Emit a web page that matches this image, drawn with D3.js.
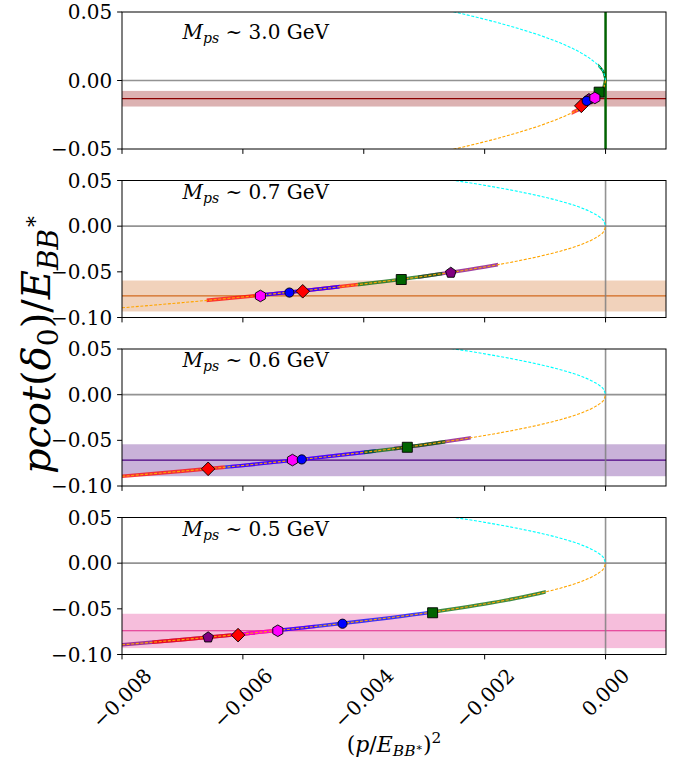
<!DOCTYPE html>
<html><head><meta charset="utf-8">
<script src="https://cdn.jsdelivr.net/npm/d3@7"></script>
<style>body{margin:0;background:#fff} svg{display:block;font-family:"DejaVu Serif",serif}</style>
</head><body><svg id="c" width="684" height="762"></svg>
<script>
// ---------------- data ----------------
const panelMasses = ["3.0", "0.7", "0.6", "0.5"];
const yTicksTop = [0.05, 0.00, -0.05];
const yTicksOther = [0.05, 0.00, -0.05, -0.10];
const xTicks = [-0.008, -0.006, -0.004, -0.002, 0.000];

// reference curve: lower branch (orange) and upper branch (cyan)
const curveX      = [-0.008, -0.007, -0.006, -0.005, -0.004, -0.003, -0.0025, -0.002, -0.0015, -0.001, -0.0007, -0.0004, -0.0002, -0.0001, -0.00003, 0];
const curveLowerY = [-0.0894, -0.0837, -0.0775, -0.0707, -0.0632, -0.0548, -0.0500, -0.0447, -0.0387, -0.0316, -0.0265, -0.0200, -0.0141, -0.0100, -0.0055, 0];
const curveUpperY = [0.0894, 0.0837, 0.0775, 0.0707, 0.0632, 0.0548, 0.0500, 0.0447, 0.0387, 0.0316, 0.0265, 0.0200, 0.0141, 0.0100, 0.0055, 0];

// constant fit per panel
const fitCenter = [-0.0132, -0.0764, -0.0716, -0.0740];
const fitLow    = [-0.0190, -0.0934, -0.0893, -0.0930];
const fitHigh   = [-0.0076, -0.0595, -0.0543, -0.0554];

// points per panel: series, x, y
const ser30 = ["red", "purple", "blue", "green", "magenta"];
const x30   = [-0.000401, -0.000275, -0.000312, -0.000106, -0.000177];
const y30   = [-0.0185, -0.0136, -0.0149, -0.0085, -0.0127];

const ser07 = ["purple", "green", "red", "blue", "magenta"];
const x07   = [-0.00256, -0.00338, -0.00501, -0.00523, -0.00571];
const y07   = [-0.0510, -0.0584, -0.0713, -0.0727, -0.0764];

const ser06 = ["green", "red", "magenta", "blue"];
const x06   = [-0.00328, -0.006575, -0.00518, -0.005026];
const y06   = [-0.0576, -0.0812, -0.0716, -0.0709];

const ser05 = ["green", "blue", "magenta", "red", "purple"];
const x05   = [-0.002861, -0.004352, -0.005422, -0.00608, -0.006575];
const y05   = [-0.0543, -0.0663, -0.0740, -0.0788, -0.0813];

// error segments along the curve per panel: series, xFrom, xTo
const segSer30 = ["red", "blue", "purple", "magenta", "green"];
const segA30   = [-0.00056, -0.00045, -0.00040, -0.00025, -0.00015];
const segB30   = [-0.00028, -0.00020, -0.00016, -0.00010, 0.0];

const segSer07 = ["purple", "red", "magenta", "blue", "green"];
const segA07   = [-0.0031, -0.0066, -0.0057, -0.0057, -0.0041];
const segB07   = [-0.00178, -0.0041, -0.0044, -0.0044, -0.0027];

const segSer06 = ["purple", "red", "magenta", "blue", "green"];
const segA06   = [-0.0035, -0.0085, -0.0062, -0.0063, -0.0040];
const segB06   = [-0.00223, -0.0063, -0.0040, -0.0038, -0.00265];

const segSer05 = ["purple", "red", "magenta", "blue", "green"];
const segA05   = [-0.0085, -0.0075, -0.0062, -0.0054, -0.0029];
const segB05   = [-0.0058, -0.0054, -0.0048, -0.0029, -0.00099];

// ---------------- styles ----------------
const fitColors = ["#8b0000", "#d2691e", "#4b0082", "#e0288a"];
const seriesColor = {red: "#ff0000", blue: "#0000ff", magenta: "#ff00ff", green: "#006400", purple: "#800080"};
const seriesShape = {red: "D", blue: "o", magenta: "h", green: "s", purple: "p"};

const panelsPts = [[ser30, x30, y30], [ser07, x07, y07], [ser06, x06, y06], [ser05, x05, y05]];
const panelsSeg = [[segSer30, segA30, segB30], [segSer07, segA07, segB07], [segSer06, segA06, segB06], [segSer05, segA05, segB05]];

const svg = d3.select("#c");
const X0 = 122, X1 = 666;
const panelTop = [12, 180.5, 349, 517.5];
const panelH = 137;
const FS = 20;
const tickLen = 4.9, tickPad = 4.9;

const xScale = d3.scaleLinear().domain([-0.008, 0.001]).range([X0, X1]);
const lowerPts = curveX.map((x, i) => [x, curveLowerY[i]]);
const upperPts = curveX.map((x, i) => [x, curveUpperY[i]]);

function shapePath(s) {
  const poly = (n, r, off) => {
    const p = d3.range(n).map(k => {
      const a = (off + k * 360 / n) * Math.PI / 180;
      return [r * Math.cos(a), r * Math.sin(a)];
    });
    return "M" + p.map(q => q.join(",")).join("L") + "Z";
  };
  if (s === "D") return poly(4, 6.8, -90);
  if (s === "o") return d3.symbol(d3.symbolCircle, Math.PI * 4.6 * 4.6)();
  if (s === "h") return poly(6, 5.8, -90);
  if (s === "s") return "M-5,-5L5,-5L5,5L-5,5Z";
  if (s === "p") return poly(5, 5.6, -90);
}

const defs = svg.append("defs");
const fmt = v => (v < 0 ? "\u2212" : "") + Math.abs(v).toFixed(2);
const fmtX = v => (v < 0 ? "\u2212" : "") + Math.abs(v).toFixed(3);

panelTop.forEach((top, i) => {
  const bottom = top + panelH;
  const yDom = i === 0 ? [-0.05, 0.05] : [-0.10, 0.05];
  const y = d3.scaleLinear().domain(yDom).range([bottom, top]);
  const clipId = "clip" + i;
  defs.append("clipPath").attr("id", clipId).append("rect")
    .attr("x", X0).attr("y", top).attr("width", X1 - X0).attr("height", panelH);
  const g = svg.append("g").attr("clip-path", `url(#${clipId})`);

  // band
  g.append("rect").attr("x", X0).attr("width", X1 - X0)
    .attr("y", y(fitHigh[i])).attr("height", y(fitLow[i]) - y(fitHigh[i]))
    .attr("fill", fitColors[i]).attr("fill-opacity", 0.3);
  g.append("line").attr("x1", X0).attr("x2", X1)
    .attr("y1", y(fitCenter[i])).attr("y2", y(fitCenter[i]))
    .attr("stroke", fitColors[i]).attr("stroke-width", 1.2);

  // zero lines
  g.append("line").attr("x1", X0).attr("x2", X1).attr("y1", y(0)).attr("y2", y(0))
    .attr("stroke", "#808080").attr("stroke-opacity", 0.85).attr("stroke-width", 1.6);
  g.append("line").attr("x1", xScale(0)).attr("x2", xScale(0)).attr("y1", top).attr("y2", bottom)
    .attr("stroke", "#808080").attr("stroke-opacity", 0.85).attr("stroke-width", 1.6);

  const line = d3.line().x(d => xScale(d[0])).y(d => y(d[1])).curve(d3.curveMonotoneX);

  // segments
  const [sS, sA, sB] = panelsSeg[i];
  sS.forEach((s, k) => {
    const cid = `seg${i}_${k}`;
    defs.append("clipPath").attr("id", cid).append("rect")
      .attr("x", xScale(sA[k])).attr("y", top - 50)
      .attr("width", xScale(sB[k]) - xScale(sA[k])).attr("height", panelH + 100);
    g.append("g").attr("clip-path", `url(#${cid})`).append("path")
      .attr("d", line(lowerPts)).attr("fill", "none")
      .attr("stroke", seriesColor[s]).attr("stroke-width", 3.6).attr("stroke-opacity", 0.75);
  });

  if (i === 0) {
    g.append("line").attr("x1", xScale(0)).attr("x2", xScale(0)).attr("y1", top).attr("y2", bottom)
      .attr("stroke", seriesColor.green).attr("stroke-width", 2.4);
    const cid = "segUp0";
    defs.append("clipPath").attr("id", cid).append("rect")
      .attr("x", xScale(-0.00012)).attr("y", top).attr("width", xScale(0) - xScale(-0.00012)).attr("height", panelH);
    g.append("g").attr("clip-path", `url(#${cid})`).append("path")
      .attr("d", line(upperPts)).attr("fill", "none")
      .attr("stroke", seriesColor.green).attr("stroke-width", 2.2);
  }

  // reference curves
  g.append("path").attr("d", line(upperPts)).attr("fill", "none")
    .attr("stroke", "#00ffff").attr("stroke-width", 1.1).attr("stroke-dasharray", "3,1.6");
  g.append("path").attr("d", line(lowerPts)).attr("fill", "none")
    .attr("stroke", "#ffa500").attr("stroke-width", 1.1).attr("stroke-dasharray", "3,1.6");

  // markers
  const [pS, pX, pY] = panelsPts[i];
  pS.forEach((s, k) => {
    g.append("path").attr("d", shapePath(seriesShape[s]))
      .attr("transform", `translate(${xScale(pX[k])},${y(pY[k])})`)
      .attr("fill", seriesColor[s]).attr("stroke", "#000").attr("stroke-width", 0.9);
  });

  // frame
  svg.append("rect").attr("x", X0).attr("y", top).attr("width", X1 - X0).attr("height", panelH)
    .attr("fill", "none").attr("stroke", "#000").attr("stroke-width", 1);

  // y ticks
  const yt = i === 0 ? yTicksTop : yTicksOther;
  yt.forEach(v => {
    svg.append("line").attr("x1", X0 - tickLen).attr("x2", X0).attr("y1", y(v)).attr("y2", y(v))
      .attr("stroke", "#000").attr("stroke-width", 1);
    svg.append("text").attr("x", X0 - tickLen - tickPad).attr("y", y(v))
      .attr("text-anchor", "end").attr("dominant-baseline", "central")
      .attr("font-size", FS).text(fmt(v));
  });
  // x tick marks
  xTicks.forEach(v => {
    svg.append("line").attr("x1", xScale(v)).attr("x2", xScale(v)).attr("y1", bottom).attr("y2", bottom + tickLen)
      .attr("stroke", "#000").attr("stroke-width", 1);
  });

  // panel label
  const t = svg.append("text").attr("x", xScale(-0.007)).attr("y", y(0.03)).attr("font-size", FS);
  t.append("tspan").attr("font-style", "italic").text("M");
  t.append("tspan").attr("font-style", "italic").attr("font-size", FS * 0.7).attr("dy", 4).text("ps");
  t.append("tspan").attr("dy", -4).text(" ~ " + panelMasses[i] + " GeV");

  if (i === 3) {
    xTicks.forEach(v => {
      const tx = svg.append("text").attr("font-size", FS).attr("text-anchor", "middle")
        .attr("dominant-baseline", "central").text(fmtX(v));
      const L = tx.node().getComputedTextLength();
      const hh = (L + FS * 1.1) * Math.SQRT1_2;
      tx.attr("transform", `translate(${xScale(v)},${bottom + tickLen + tickPad + hh / 2}) rotate(-45)`);
    });
  }
});

// x label
const XF = 22;
const xl = svg.append("text").attr("x", (X0 + X1) / 2).attr("y", 752).attr("text-anchor", "middle").attr("font-size", XF);
xl.append("tspan").text("(");
xl.append("tspan").attr("font-style", "italic").text("p");
xl.append("tspan").text("/");
xl.append("tspan").attr("font-style", "italic").text("E");
xl.append("tspan").attr("font-style", "italic").attr("font-size", XF * 0.7).attr("dy", 4).text("BB");
xl.append("tspan").attr("font-size", XF * 0.5).attr("dy", -5).text("\u2217");
xl.append("tspan").attr("dy", 1).text(")");
xl.append("tspan").attr("font-size", XF * 0.7).attr("dy", -9).text("2");

// y label
const YF = 40;
const yl = svg.append("text").attr("transform", `translate(50,344) rotate(-90)`)
  .attr("text-anchor", "middle").attr("font-size", YF);
yl.append("tspan").attr("font-style", "italic").text("pcot");
yl.append("tspan").text("(");
yl.append("tspan").attr("font-style", "italic").text("δ");
yl.append("tspan").attr("font-size", YF * 0.7).attr("dy", 8).text("0");
yl.append("tspan").attr("dy", -8).text(")/");
yl.append("tspan").attr("font-style", "italic").text("E");
yl.append("tspan").attr("font-style", "italic").attr("font-size", YF * 0.7).attr("dy", 8).text("BB");
yl.append("tspan").attr("font-size", YF * 0.55).attr("dy", -20).text("\u2217");
</script></body></html>
